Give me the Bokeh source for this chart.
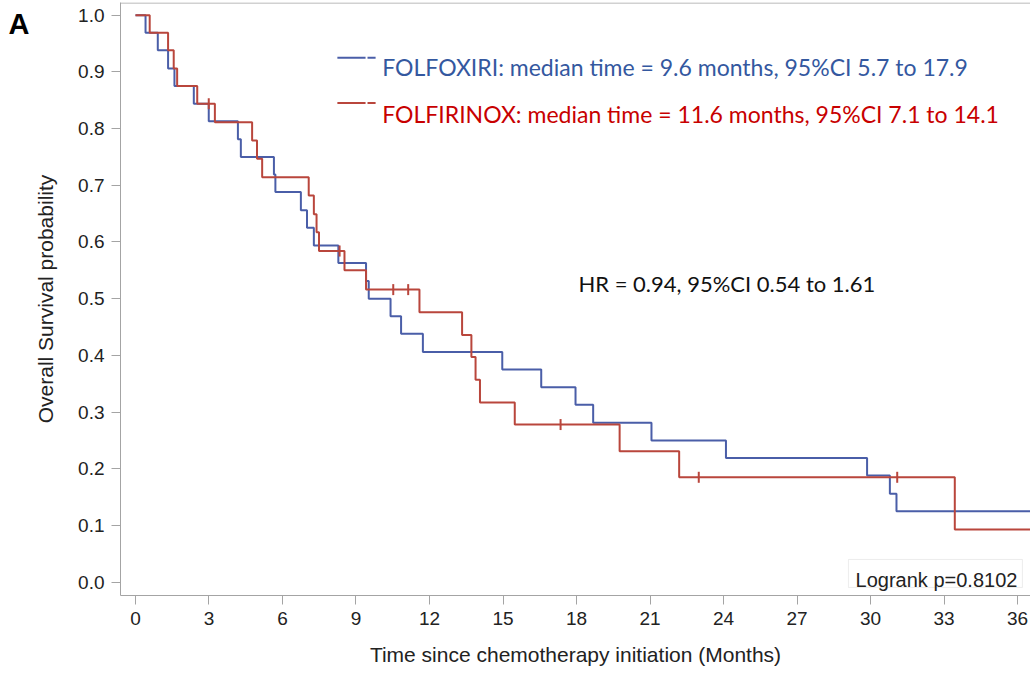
import numpy as np
from bokeh.plotting import figure
from bokeh.models import (Label, Span, Arrow, BoxAnnotation, Range1d, FixedTicker,
                          CustomJSTickFormatter, LinearAxis)
from bokeh.embed import file_html
from bokeh.resources import INLINE

# ---- data ----
blue_legend = "FOLFOXIRI: median time = 9.6 months, 95%CI 5.7 to 17.9"
red_legend = "FOLFIRINOX: median time = 11.6 months, 95%CI 7.1 to 14.1"
hr_text = "HR = 0.94, 95%CI 0.54 to 1.61"
logrank_text = "Logrank p=0.8102"
panel_letter = "A"

blue_time = [0, 0.41, 0.91, 1.33, 1.59, 2.38, 2.99, 4.18, 4.30, 5.65, 5.71, 6.75, 7.00, 7.28,
             8.28, 9.41, 9.52, 10.41, 10.84, 11.73, 14.97, 16.56, 17.96, 18.68, 21.06, 24.10,
             29.86, 30.79, 31.06, 37.0]
blue_surv = [1.0, 0.969, 0.938, 0.906, 0.875, 0.844, 0.813, 0.781, 0.750, 0.719, 0.688, 0.656,
             0.625, 0.594, 0.563, 0.531, 0.500, 0.469, 0.438, 0.406, 0.375, 0.344, 0.313, 0.281,
             0.250, 0.219, 0.188, 0.156, 0.125, 0.125]

red_time = [0, 0.58, 1.33, 1.56, 1.70, 2.52, 3.24, 4.76, 4.96, 5.17, 7.07, 7.28, 7.39, 7.49,
            8.53, 9.41, 11.59, 13.33, 13.71, 13.88, 14.06, 15.48, 19.76, 22.19, 33.44, 37.0]
red_surv = [1.0, 0.969, 0.938, 0.906, 0.875, 0.844, 0.811, 0.779, 0.747, 0.714, 0.682, 0.649,
            0.617, 0.584, 0.550, 0.516, 0.476, 0.436, 0.397, 0.357, 0.317, 0.278, 0.231, 0.185,
            0.093, 0.093]

red_censor_time = [2.99, 8.33, 10.52, 11.13, 17.35, 22.99, 31.09]
red_censor_surv = [0.844, 0.584, 0.516, 0.516, 0.278, 0.185, 0.185]

x_ticks = [0, 3, 6, 9, 12, 15, 18, 21, 24, 27, 30, 33, 36]
y_ticks = [0.0, 0.1, 0.2, 0.3, 0.4, 0.5, 0.6, 0.7, 0.8, 0.9, 1.0]

# ---- style ----
BLUE = "#4a5ea8"
RED = "#b9463c"
BLUE_TXT = "#34589f"
RED_TXT = "#c80000"
AXIS = "#a4a4a4"
ARIAL = "Liberation Sans"
CAL = "Lato"

Y_TOP = 1.0224
p = figure(width=1030, height=673, output_backend="svg", toolbar_location=None,
           x_range=Range1d(-0.612, 36.53), y_range=Range1d(-0.0235, Y_TOP),
           min_border_left=120, min_border_right=0, min_border_top=2, min_border_bottom=78)
p.outline_line_color = None
p.xgrid.visible = False
p.ygrid.visible = False
p.background_fill_color = "white"
p.border_fill_color = "white"

for ax in (p.xaxis[0], p.yaxis[0]):
    ax.axis_line_color = AXIS
    ax.major_tick_line_color = AXIS
    ax.minor_tick_line_color = None
    ax.major_tick_in = 0
    ax.major_tick_out = 9
    ax.major_label_text_font = ARIAL
    ax.major_label_text_font_size = "19px"
    ax.major_label_text_color = "#222222"
    ax.axis_label_text_font = ARIAL
    ax.axis_label_text_font_size = "21px"
    ax.axis_label_text_font_style = "normal"
    ax.axis_label_text_color = "#222222"
    ax.major_label_standoff = 7

p.xaxis.ticker = FixedTicker(ticks=x_ticks)
p.yaxis.ticker = FixedTicker(ticks=y_ticks)
p.yaxis.formatter = CustomJSTickFormatter(code="return tick.toFixed(1);")
p.xaxis.axis_label = "Time since chemotherapy initiation (Months)"
p.yaxis.axis_label = "Overall Survival probability"
p.xaxis.axis_label_standoff = 15
p.yaxis.axis_label_standoff = 18

# panel letter, as the single label of an extra, line-less axis outside the y axis
letter_axis = LinearAxis(ticker=FixedTicker(ticks=[0.9845]),
                         formatter=CustomJSTickFormatter(code=f"return '{panel_letter}';"),
                         axis_line_color=None, major_tick_line_color=None,
                         minor_tick_line_color=None, major_tick_in=0, major_tick_out=0,
                         major_label_standoff=2, major_label_text_font=ARIAL,
                         major_label_text_font_size="29px", major_label_text_font_style="bold",
                         major_label_text_color="black")
p.add_layout(letter_axis, "left")

# top frame line
p.add_layout(Span(location=Y_TOP - 0.0009, dimension="width", line_color=AXIS, line_width=1))

# curves
p.step(blue_time, blue_surv, mode="after", line_color=BLUE, line_width=2)
p.step(red_time, red_surv, mode="after", line_color=RED, line_width=2)
p.scatter(red_censor_time, red_censor_surv, marker="dash", angle=np.pi / 2, size=11,
          line_color=RED, line_width=2)

# legend samples
for yv, col in ((0.925, BLUE), (0.845, RED)):
    p.add_layout(Arrow(x_start=8.24, y_start=yv, x_end=9.39, y_end=yv, end=None,
                       line_color=col, line_width=2))
    p.add_layout(Arrow(x_start=9.47, y_start=yv, x_end=9.80, y_end=yv, end=None,
                       line_color=col, line_width=2))

p.add_layout(Label(x=10.07, y=0.908, text=blue_legend, text_font=CAL,
                   text_font_size="23px", text_color=BLUE_TXT, text_baseline="alphabetic"))
p.add_layout(Label(x=10.07, y=0.825, text=red_legend, text_font=CAL,
                   text_font_size="23px", text_color=RED_TXT, text_baseline="alphabetic"))
p.add_layout(Label(x=18.08, y=0.527, text=hr_text, text_font=CAL,
                   text_font_size="22px", text_color="#111111", text_baseline="alphabetic"))

# logrank box
p.add_layout(BoxAnnotation(left=29.10, right=36.20, bottom=-0.0093, top=0.040,
                           fill_color="white", fill_alpha=1.0, line_color="#c4c4c4", line_width=1))
p.add_layout(Label(x=29.39, y=0.003, text=logrank_text, text_font=ARIAL,
                   text_font_size="20px", text_color="#222222", text_baseline="alphabetic"))

open("out.html", "w").write(file_html(p, INLINE))
